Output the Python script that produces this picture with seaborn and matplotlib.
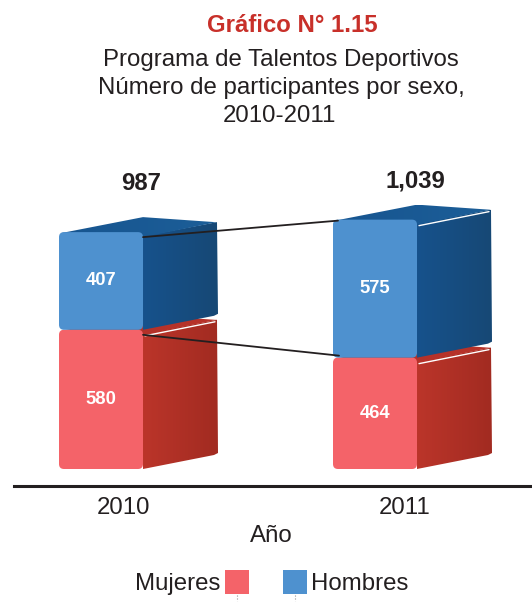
import numpy as np
import pandas as pd
import matplotlib
matplotlib.use('Agg')
import matplotlib.pyplot as plt
from matplotlib.patches import FancyBboxPatch, Polygon, Rectangle
import seaborn as sns

# Data
years = ['2010', '2011']
mujeres = [580, 464]
hombres = [407, 575]
totales = ['987', '1,039']

W, H = 532, 602
RED, BLUE = '#f46369', '#4e91cf'
DEPTH_X, DEPTH_Y = 74, -14

sns.set_theme(style='white')
plt.rcParams['font.family'] = ['Liberation Sans', 'DejaVu Sans']
TXT = '#231f20'

fig = plt.figure(figsize=(W / 100, H / 100), dpi=100, facecolor='white')

# Main axes: spans the area between the baseline rule and the top of the bars
left, right, bottom, top = 14, 532, 486, 190
ax = fig.add_axes([left / W, 1 - bottom / H, (right - left) / W, (bottom - top) / H])
df = pd.DataFrame({'year': years, 'mujeres': mujeres, 'hombres': hombres})
bar_w = 84 / 274
sns.barplot(data=df, x='year', y='mujeres', color=RED, width=bar_w, ax=ax, saturation=1)
sns.barplot(data=df, x='year', y='hombres', color=BLUE, width=bar_w, ax=ax, saturation=1,
            bottom=df['mujeres'].values)
ax.set_xlim((left - 101) / 274, (right - 101) / 274)
px_per_unit = 0.24
ax.set_ylim(-17 / px_per_unit, (bottom - top - 17) / px_per_unit)
ax.set_xlabel('')
ax.set_ylabel('')
ax.set_xticks([])
ax.set_yticks([])
sns.despine(ax=ax, left=True)
ax.spines['bottom'].set_color(TXT)
ax.spines['bottom'].set_linewidth(2.2)
ax.patch.set_alpha(0)

# Overlay in pixel coordinates for the box drawing and the texts
px = fig.add_axes([0, 0, 1, 1], zorder=5)
px.set_xlim(0, W)
px.set_ylim(H, 0)
px.axis('off')


def to_px(x, y):
    d = ax.transData.transform((x, y))
    return d[0] / fig.dpi * 100, H - d[1] / fig.dpi * 100


def gradient(poly, c1, c2, z):
    xs = [p[0] for p in poly]
    ys = [p[1] for p in poly]
    g = np.linspace(0, 1, 64).reshape(1, -1, 1)
    rgb = np.array(matplotlib.colors.to_rgb(c1)) * (1 - g) + np.array(matplotlib.colors.to_rgb(c2)) * g
    im = px.imshow(rgb, extent=[min(xs), max(xs), max(ys), min(ys)], aspect='auto', zorder=z)
    clip = Polygon(poly, closed=True, transform=px.transData, fc='none', ec='none')
    px.add_patch(clip)
    im.set_clip_path(clip)


def box(bar, face, side1, side2, top1, top2, z):
    x0, y0 = to_px(bar.get_x(), bar.get_y() + bar.get_height())
    x1, y1 = to_px(bar.get_x() + bar.get_width(), bar.get_y())
    # side face and top face
    side = [(x1, y0 + 4), (x1 + DEPTH_X, y0 + 4 + DEPTH_Y), (x1 + DEPTH_X + 1, y1 - 2 + DEPTH_Y),
            (x1 + DEPTH_X - 3, y1 + DEPTH_Y), (x1, y1)]
    gradient(side, side1, side2, z)
    tp = [(x0 + 2, y0 + 1), (x0 + 84, y0 - 15), (x1 + DEPTH_X - 2, y0 - 10), (x1 + DEPTH_X, y0 + 4 + DEPTH_Y),
          (x1, y0 + 5)]
    gradient(tp, top1, top2, z + 0.1)
    f = FancyBboxPatch((x0 + 3, y0 + 3), x1 - x0 - 6, y1 - y0 - 6, boxstyle='round,pad=3,rounding_size=5',
                       fc=face, ec='none', zorder=z + 0.2)
    px.add_patch(f)
    return x0, y0, x1, y1


geo = []
for i, bar in enumerate(ax.patches):
    bar.set_visible(False)
    if i < 2:
        geo.append(box(bar, RED, '#bb352a', '#a22b21', '#b0302a', '#b83329', 6 + i))
    else:
        geo.append(box(bar, BLUE, '#17528c', '#164875', '#175590', '#1c5e98', 6 + i - 2 + 0.5))

# White highlights and connector lines between the two years
for i in [0, 1, 3]:
    x0, y0, x1, y1 = geo[i]
    px.plot([x1 + 2, x1 + DEPTH_X - 2], [y0 + 6, y0 + 6 + DEPTH_Y], color='white', lw=1, zorder=9)
px.plot([geo[2][2], geo[3][0] + 5], [geo[2][1] + 5, geo[3][1] + 1], color=TXT, lw=1.3, zorder=10)
px.plot([geo[0][2], geo[1][0] + 6], [geo[0][1] + 5, geo[1][1] - 2], color=TXT, lw=1.3, zorder=10)

# Value labels inside the boxes
vals = mujeres + hombres
for (x0, y0, x1, y1), v in zip(geo, vals):
    px.text((x0 + x1) / 2, (y0 + y1) / 2, str(v), color='white', fontsize=13.2, fontweight='bold',
            ha='center', va='center', zorder=12)

# Totals above each stack
px.text(141, 184, totales[0], color=TXT, fontsize=17.2, fontweight='bold', ha='center', va='center')
px.text(415, 181, totales[1], color=TXT, fontsize=17.2, fontweight='bold', ha='center', va='center')

# Titles
px.text(292, 26, 'Gráfico N° 1.15', color='#c8302a', fontsize=17.3, fontweight='bold', ha='center', va='center')
px.text(281, 60, 'Programa de Talentos Deportivos', color=TXT, fontsize=17.3, ha='center', va='center')
px.text(281, 88, 'Número de participantes por sexo,', color=TXT, fontsize=17.3, ha='center', va='center')
px.text(279, 116, '2010-2011', color=TXT, fontsize=17.3, ha='center', va='center')

# Axis texts
px.text(124, 508, years[0], color=TXT, fontsize=17.3, ha='center', va='center')
px.text(405, 508, years[1], color=TXT, fontsize=17.3, ha='center', va='center')
px.text(271, 536, 'Año', color=TXT, fontsize=17.3, ha='center', va='center')

# Legend
px.add_patch(Rectangle((225, 570), 24, 24, fc=RED, ec='none'))
px.add_patch(Rectangle((283, 570), 24, 24, fc=BLUE, ec='none'))
px.plot([237, 237], [595, 601], color='#999999', lw=0.8, ls=':')
px.plot([295, 295], [595, 601], color='#999999', lw=0.8, ls=':')
px.text(220, 584, 'Mujeres', color=TXT, fontsize=17.3, ha='right', va='center')
px.text(311, 584, 'Hombres', color=TXT, fontsize=17.3, ha='left', va='center')

px.set_xlim(0, W)
px.set_ylim(H, 0)
fig.savefig('out.png', dpi=100)
